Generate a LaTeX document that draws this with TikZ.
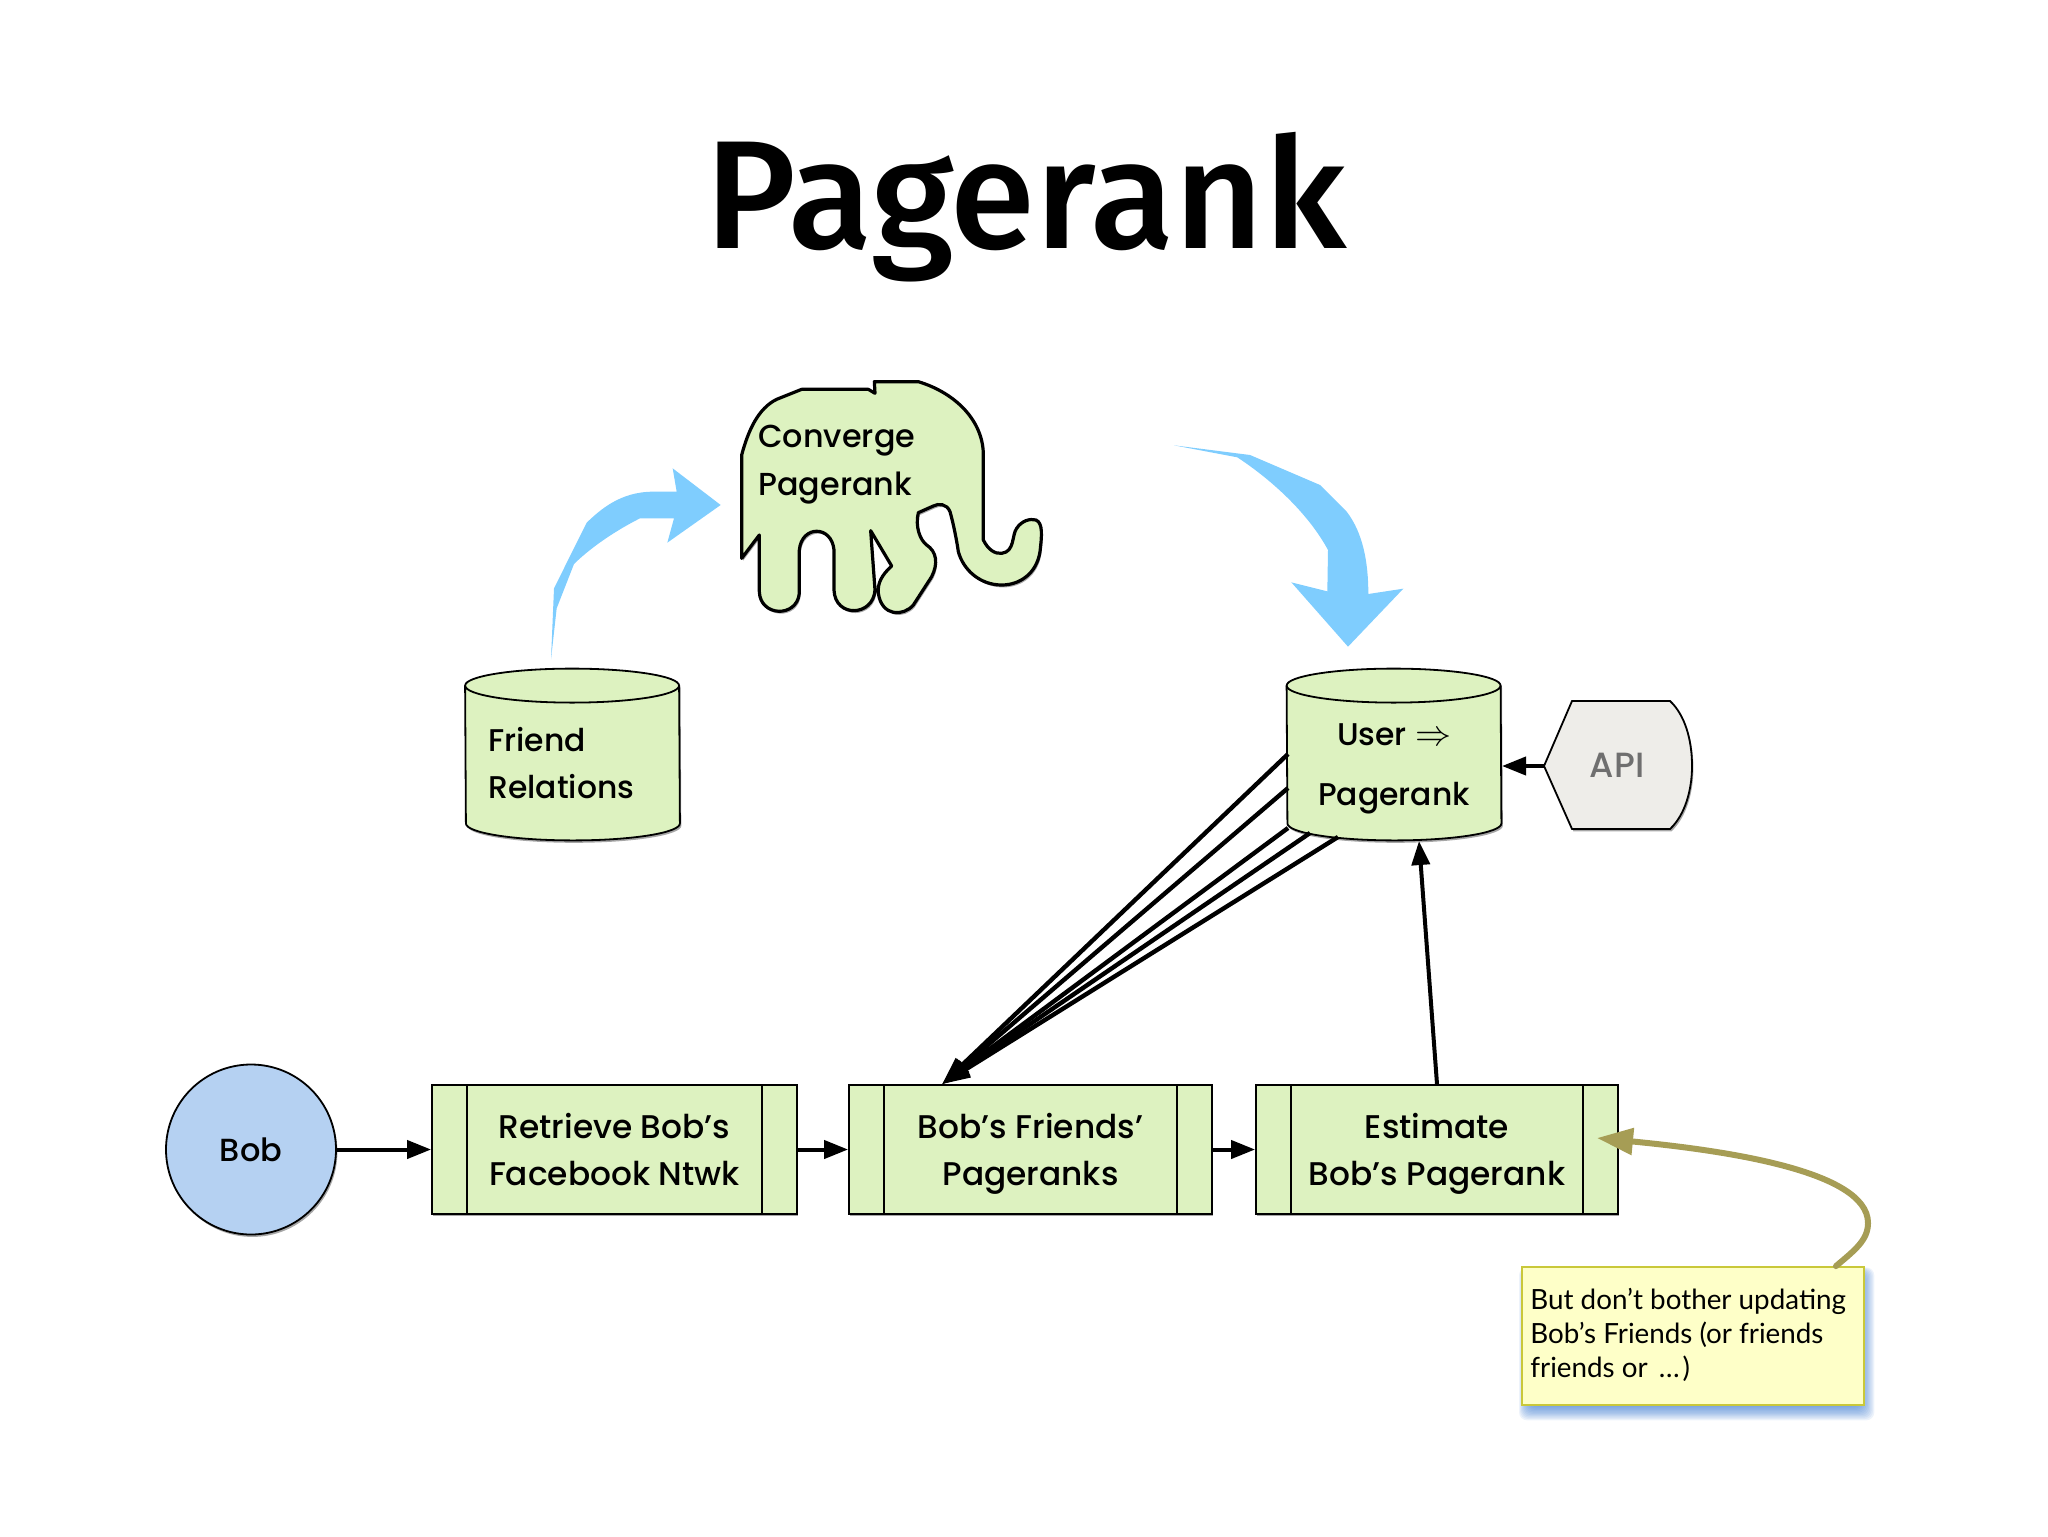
\documentclass[tikz,border=0pt]{standalone}
\usepackage{fontspec}
\setmainfont{Poppins Medium}
\newfontfamily\titlefont{Fira Sans Medium}
\newfontfamily\notefont{Lato}
\usetikzlibrary{arrows.meta,shapes.geometric,shadows}
\definecolor{pgreen}{HTML}{DDF2C0}
\definecolor{pblue}{HTML}{B5D1F2}
\definecolor{sky}{HTML}{7FCDFE}
\definecolor{olive}{HTML}{A69D55}
\definecolor{notefill}{HTML}{FEFFC8}
\definecolor{noteline}{HTML}{C9C83A}
\definecolor{apifill}{HTML}{EEEDE9}
\definecolor{apitext}{HTML}{6F6F6F}
\definecolor{noteshadow}{HTML}{3D7BD0}
\tikzset{
  softshadow/.style={drop shadow={shadow xshift=.7pt,shadow yshift=-1.2pt,opacity=.35,fill=black}},
  procbox/.style={draw=black,line width=.9pt,fill=pgreen,minimum height=64.5pt,inner sep=0pt,softshadow,
    align=center,font=\fontsize{16.4}{23.5}\selectfont},
  store/.style={rectangle,minimum width=107pt,minimum height=85.5pt,inner sep=0pt},
  storebody/.style={draw=black,line width=.9pt,fill=pgreen,softshadow},
  storetext/.style={font=\fontsize{15.7}{30}\selectfont,inner sep=0pt},
  link/.style={-{Triangle[length=12pt,width=9pt]},line width=2pt,black},
  fanlink/.style={-{Triangle[length=14pt,width=9pt]},line width=2.2pt,black},
  bigarrow/.style={fill=sky,draw=none},
}
\newcommand{\drawstore}[1]{%
  \draw[storebody] ([yshift=-8.5pt]#1.north west) arc[start angle=180,end angle=0,x radius=53.5pt,y radius=8.5pt]
    -- ([yshift=8.5pt]#1.south east) arc[start angle=0,end angle=-180,x radius=53.5pt,y radius=8.5pt] -- cycle;
  \draw[line width=.9pt] ([yshift=-8.5pt]#1.north west) arc[start angle=180,end angle=360,x radius=53.5pt,y radius=8.5pt];
}
\begin{document}
\begin{tikzpicture}[x=.5pt,y=-.5pt]
\useasboundingbox (0,0) rectangle (2048,1536);

\node[font=\titlefont\fontsize{77}{90}\selectfont,anchor=base,inner sep=0pt] (title) at (1026,248) {Pagerank};

% big blue arrows
\begin{scope}[shift={(520,430)},scale=1/3]
\fill[bigarrow] (93,688) -- (102,475) -- (200,278) .. controls (240,240) and (300,185) .. (400,185)
  -- (470,185) -- (458,115) -- (602,225) -- (442,338) -- (462,265) -- (360,265)
  .. controls (300,295) and (220,345) .. (162,402) -- (110,535) -- cycle;
\end{scope}
\begin{scope}[shift={(1150,430)},scale=1/3]
\fill[bigarrow] (72,46) -- (300,75) -- (510,165) -- (590,245) .. controls (640,310) and (655,400) .. (655,492)
  -- (760,476) -- (594,650) -- (424,457) -- (532,484) -- (534,360)
  .. controls (480,260) and (380,160) .. (262,82) -- cycle;
\end{scope}

% elephant
\begin{scope}[shift={(700,360)},scale=1/3]
\draw[fill=pgreen,line width=1.6pt,line join=round,softshadow]
  (125,595) -- (125,285) .. controls (145,210) and (175,145) .. (230,118) -- (305,88) -- (505,88)
  -- (525,100) -- (523,65) -- (655,65) .. controls (770,100) and (850,185) .. (850,285) -- (850,540)
  .. controls (865,570) and (885,582) .. (905,580) .. controls (945,575) and (935,525) .. (950,505)
  .. controls (965,482) and (990,475) .. (1008,480) .. controls (1030,490) and (1025,530) .. (1020,575)
  .. controls (1010,640) and (960,675) .. (905,675) .. controls (840,675) and (790,630) .. (775,575)
  .. controls (770,540) and (760,490) .. (750,455) .. controls (740,430) and (715,430) .. (700,438)
  -- (655,458) .. controls (645,500) and (660,540) .. (680,555) .. controls (710,575) and (715,610) .. (695,650)
  -- (640,735) .. controls (610,770) and (545,770) .. (535,700) .. controls (532,670) and (545,645) .. (575,618)
  -- (512,512) -- (525,690) .. controls (520,770) and (405,775) .. (402,690) -- (402,570)
  .. controls (395,495) and (305,495) .. (298,570) -- (298,700) .. controls (290,775) and (180,770) .. (178,695)
  -- (178,525) -- cycle;
\end{scope}
\node[font=\fontsize{15.9}{24}\selectfont,align=left,anchor=north west,inner sep=0pt] (conv) at (758,425) {Converge\\Pagerank};

% stores
\node[store] (friend) at (572.5,754.5) {};
\drawstore{friend}
\node[storetext,align=left,anchor=west] (friendtxt) at (488,763) {Friend\\[-6.5pt]Relations};
\node[store] (user) at (1394,754.5) {};
\drawstore{user}
\node[storetext,align=center] (usertxt) at (1394,769) {User \scalebox{1.25}{$\Rightarrow$}\\Pagerank};

% API
\draw[fill=apifill,line width=.9pt,softshadow] (1544,766) coordinate (apitip) -- (1572,701) -- (1670,701)
  .. controls (1685,715) and (1692,740) .. (1692,766) .. controls (1692,790) and (1685,815) .. (1670,829)
  -- (1572,829) -- cycle;
\node[font=\fontsize{17.5}{22}\selectfont,text=apitext,inner sep=0pt] (api) at (1617,765) {API};

% Bob
\node[circle,draw=black,line width=.9pt,fill=pblue,minimum size=85pt,inner sep=0pt,softshadow,
  font=\fontsize{16}{22}\selectfont] (bob) at (251,1149.5) {Bob};

% process boxes
\node[procbox,minimum width=182.5pt] (b1) at (614.5,1149.5) {Retrieve Bob’s\\Facebook Ntwk};
\node[procbox,minimum width=181.5pt] (b2) at (1030.5,1149.5) {Bob’s Friends’\\\smash{Pageranks}};
\node[procbox,minimum width=181pt] (b3) at (1437,1149.5) {Estimate\\\smash{Bob’s Pagerank}};
\foreach \n in {b1,b2,b3}{
  \draw[line width=.9pt] ([xshift=18pt]\n.north west) -- ([xshift=18pt]\n.south west);
  \draw[line width=.9pt] ([xshift=-18pt]\n.north east) -- ([xshift=-18pt]\n.south east);
}

% note
\foreach \i in {0,...,11}{
  \fill[noteshadow,opacity=.09,rounded corners=4pt] (1530-\i,1274-.6*\i) rectangle (1860+1.3*\i,1406+1.3*\i);
}
\node[draw=noteline,line width=.9pt,fill=notefill,minimum width=171pt,minimum height=69pt,inner sep=0pt] (note) at (1693,1336) {};
\node[font=\notefont\fontsize{13.9}{17}\selectfont,align=left,anchor=north west,inner sep=0pt] (notetxt) at (1530,1288) {But don’t bother updating\\Bob’s Friends (or friends\\friends or\hspace{2pt} …\hspace{1.5pt})};

% connectors
\draw[link] (bob.east) -- (b1.west);
\draw[link] (b1.east) -- (b2.west);
\draw[link] (b2.east) -- (b3.west);
\coordinate (userin) at (1419,841);
\draw[link] (b3.north) -- (userin);
\coordinate (userapi) at (1502,766);
\draw[link] (apitip) -- (userapi);

\coordinate (fan) at ([xshift=47pt]b2.north west);
\coordinate (u1) at (1288,754);
\coordinate (u2) at (1288,788);
\coordinate (u3) at (1288,828);
\coordinate (u4) at (1310,833);
\coordinate (u5) at (1338,837);
\foreach \u in {u1,u2,u3,u4,u5}{\draw[fanlink] (\u) -- (fan);}

\coordinate (notestart) at ([xshift=-14.5pt]note.north east);
\coordinate (oliveend) at (1597,1138);
\draw[olive,line width=3pt,line cap=round,-{Triangle[length=18pt,width=13pt]}]
  (notestart) .. controls (1855,1250) and (1868,1240) .. (1868,1223)
  .. controls (1868,1170) and (1720,1150) .. (oliveend);
\end{tikzpicture}
\end{document}
